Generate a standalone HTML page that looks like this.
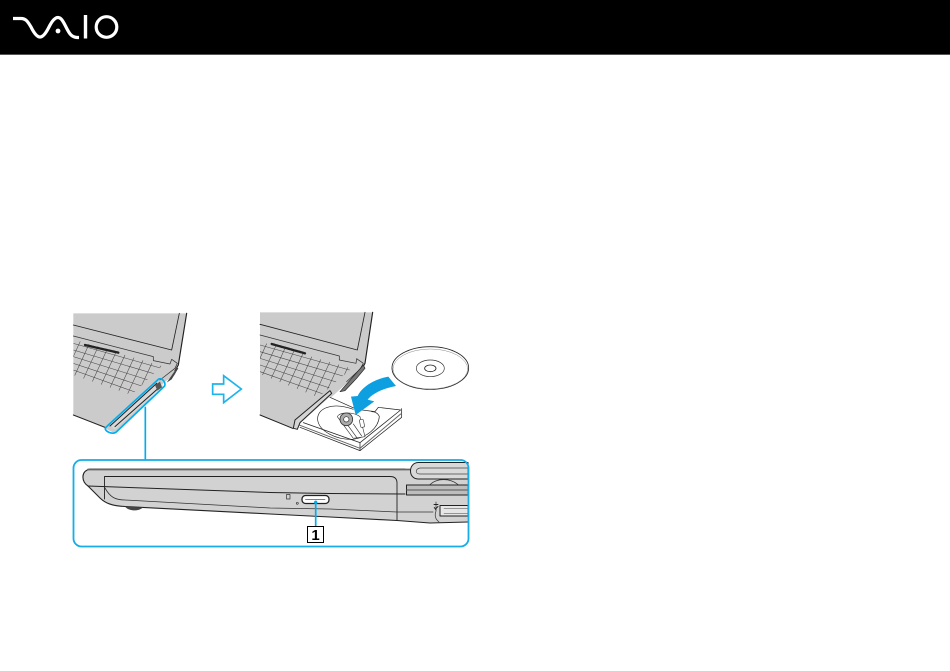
<!DOCTYPE html>
<html><head><meta charset="utf-8"><style>
html,body{margin:0;padding:0;background:#fff;width:950px;height:671px;overflow:hidden}
svg{display:block;position:absolute;left:0;top:0}
</style></head><body>
<svg width="950" height="671" viewBox="0 0 950 671" xmlns="http://www.w3.org/2000/svg">
<defs>
<filter id="b" x="-5%" y="-5%" width="110%" height="110%"><feGaussianBlur stdDeviation="0.35"/></filter>
<clipPath id="k1"><path d="M40 118 L305 198 L215 285 L40 225 Z"/></clipPath>
<clipPath id="k2"><path d="M30 125 L305 205 L205 292 L30 222 Z"/></clipPath>
</defs>
<rect width="950" height="54" fill="#000"/>
<rect y="54" width="950" height="1" fill="#555"/>
<!-- logo -->
<g fill="none" stroke="#fff" stroke-width="3.2">
<path d="M13 18.500 L21 18.500 C26 18.500 28 22 31 27 C34 33 37 37 40 37 C43 37 46 33 49 27 C52 21 55 17.500 58 17.500 C61 17.500 63 21 66 27 C69 33 71 37 77 37.500 L79 37.500"/>
<path d="M85.500 15 V38.500" stroke-width="3.400"/>
<circle cx="106.500" cy="27" r="10.300"/>
</g>
<circle cx="58" cy="31" r="2.400" fill="#fff"/>

<g filter="url(#b)">
<!-- laptop 1 -->
<g transform="translate(60,300) scale(.3333)" stroke-linejoin="round" stroke-linecap="round">
<path d="M40 40 L380 40 L355 195 L345 225 L315 245 L240 330 L165 400 L135 385 L40 345 Z" fill="#cbcbcb"/>
<path d="M40 75 L335 150 L358 40" fill="none" stroke="#222" stroke-width="2.500"/>
<path d="M380 40 L355 195 L345 212" fill="none" stroke="#222" stroke-width="3.500"/>
<path d="M40 108 L280 170 L280 182 L330 192 L335 178 L352 190 L345 205 L300 240" fill="none" stroke="#333" stroke-width="2.200"/>
<g clip-path="url(#k1)" fill="none" stroke="#444" stroke-width="1.600">
<path d="M40 130 L305 205 M40 150 L285 222 M40 170 L265 240 M40 190 L245 258 M40 210 L225 276 M40 228 L205 290"/>
<path d="M65 115 L10 235 M92 122 L37 242 M119 130 L64 250 M146 138 L91 258 M173 146 L118 266 M200 154 L145 274 M227 162 L172 282 M254 170 L199 290 M281 178 L226 298 M308 186 L253 306"/>
</g>
<path d="M75 135 L175 158" stroke="#222" stroke-width="7" stroke-dasharray="9 3" fill="none"/>
<path d="M40 345 L135 382" stroke="#222" stroke-width="3" fill="none"/>
<path d="M345 212 L350 200 L355 205 L335 238 L320 248 Z" fill="#444"/>
<path d="M150 375 L295 245 L310 258 L165 388 Z" fill="#d8d8d8"/>
<path d="M150 378 L290 250 M165 380 L298 262" stroke="#222" stroke-width="3" fill="none"/>
<path d="M285 255 L300 245 L306 262 L292 272 Z" fill="#555"/>
<path d="M145 375 L295 238 C305 232 318 245 314 258 L170 395 C158 407 130 392 137 383 Z" fill="none" stroke="#00aeef" stroke-width="5"/>
<path d="M256 322 V478" stroke="#00aeef" stroke-width="5" fill="none"/>
<path d="M458 252 H491 V227 L544 267 L491 308 V283 H458 Z" fill="#fff" stroke="#1cb4ea" stroke-width="5" stroke-linejoin="miter"/>
</g>

<!-- laptop 2 -->
<g transform="translate(250,300) scale(.3333)" stroke-linejoin="round" stroke-linecap="round">
<path d="M30 37 L368 37 L345 190 L330 215 L290 250 L240 295 L160 365 L130 388 L30 345 Z" fill="#cbcbcb"/>
<path d="M30 73 L322 150 L345 37" fill="none" stroke="#222" stroke-width="2.500"/>
<path d="M368 37 L345 190 L335 208" fill="none" stroke="#222" stroke-width="3.500"/>
<path d="M30 105 L268 168 L268 180 L318 190 L320 176 L340 190 L330 208 L290 245" fill="none" stroke="#333" stroke-width="2.200"/>
<g clip-path="url(#k2)" fill="none" stroke="#444" stroke-width="1.600">
<path d="M30 135 L305 212 M30 155 L285 230 M30 175 L265 248 M30 195 L245 266 M30 215 L225 284"/>
<path d="M55 120 L0 240 M82 128 L27 248 M109 136 L54 256 M136 144 L81 264 M163 152 L108 272 M190 160 L135 280 M217 168 L162 288 M244 176 L189 296 M271 184 L216 304 M298 192 L243 312"/>
</g>
<path d="M65 132 L165 160" stroke="#222" stroke-width="7" stroke-dasharray="9 3" fill="none"/>
<path d="M30 345 L128 385" stroke="#222" stroke-width="3" fill="none"/>
<path d="M270 275 L305 235 L340 195 L345 205 L320 235 L285 272 Z" fill="#777" stroke="#222" stroke-width="2"/>
<!-- tray -->
<path d="M150 370 L240 290 L455 328 L450 355 L330 452 L150 382 Z" fill="#fff"/>
<path d="M240 292 L320 328 L375 335 L385 322 L452 330 L330 428 L160 368 M330 428 L330 452 M150 382 L330 452 L455 352 L455 326" fill="none" stroke="#222" stroke-width="2.200"/>
<path d="M150 376 L330 445 L452 342" fill="none" stroke="#666" stroke-width="3"/>
<path d="M130 385 L135 360 L240 272 L245 280 L150 368 L142 388 Z" fill="#d5d5d5" stroke="#222" stroke-width="3"/>
<path d="M310 328 C245 305 200 325 203 360 C208 395 260 420 310 418 C350 412 385 385 388 350 C385 340 375 335 365 335" fill="none" stroke="#222" stroke-width="2"/>
<path d="M262 350 C270 335 310 335 330 350 L345 410 L310 415 Z" fill="#fff" stroke="#333" stroke-width="1.800"/>
<circle cx="289" cy="358" r="19" fill="#aaa" stroke="#333" stroke-width="2.500"/>
<circle cx="289" cy="358" r="8" fill="#fff" stroke="#333" stroke-width="2"/>
<path d="M295 378 L322 415 M310 372 L335 408" stroke="#333" stroke-width="2" fill="none"/>
<rect x="330" y="358" width="12" height="24" rx="4" transform="rotate(-12 336 370)" fill="#fff" stroke="#444" stroke-width="2"/>
<!-- disc -->
<ellipse cx="541" cy="204" rx="115" ry="64" fill="#fff" stroke="#222" stroke-width="2.500"/>
<ellipse cx="541" cy="207" rx="112" ry="60" fill="none" stroke="#888" stroke-width="1.500"/>
<ellipse cx="541" cy="205" rx="42" ry="25" fill="none" stroke="#333" stroke-width="2"/>
<ellipse cx="541" cy="205" rx="17" ry="10" fill="none" stroke="#222" stroke-width="2.500"/>
<!-- arrow -->
<path d="M415 230 C370 238 335 262 323 288 L303 290 L317 345 L373 304 L353 299 C368 280 400 265 438 258 Z" fill="#0f9fe0"/>
</g>

<!-- side panel -->
<g stroke-linejoin="round" stroke-linecap="round">
<path d="M90 469 H468 V522 L430 523 L397 520.500 L330 517 L270 514 L125 506.500 C112 506 105 503 100 498 L88 486 C81 481 79 471 90 469 Z" fill="#d2d2d2"/>
<path d="M405 469 H90 C81 471 81 481 88 486 L100 498 C105 503 112 506 125 506.500 L270 514 L330 517 L397 520.500 L430 523 L468 522" fill="none" stroke="#222" stroke-width="1.100"/>
<path d="M88 469.500 H410" stroke="#666" stroke-width="1.800" fill="none"/>
<path d="M104.500 499 V476.500 H390 Q397 476.500 397 483 V520.500" fill="none" stroke="#222" stroke-width=".9"/>
<path d="M88 486 L270 492.500 L330 493.500 L405 494" stroke="#222" stroke-width="1" fill="none"/>
<path d="M105 488 C110 497 115 500 125 500 L270 508 L330 509 L397 512 H433" fill="none" stroke="#333" stroke-width=".8"/>
<path d="M125 506.500 C128 511 138 512 143 507.500 Z" fill="#444"/>
<!-- right side details -->
<path d="M468 462.500 H418 C408 463 408 479 418 479 H468 Z" fill="#d9d9d9" stroke="#222" stroke-width="1"/>
<path d="M468 468 H420 C415 469 415 474 420 474 H468" fill="none" stroke="#444" stroke-width=".7"/>
<path d="M406.500 485 H468 V495 H406.500 Z" fill="#bdbdbd" stroke="#222" stroke-width="1"/>
<path d="M406.500 490 H468" stroke="#555" stroke-width="1" fill="none"/>
<path d="M430 484.500 C437 478 450 478 458 484.500" fill="none" stroke="#333" stroke-width=".7"/>
<path d="M440 505.500 H468 V516 H440 Z" fill="#e6e6e6" stroke="#222" stroke-width="1"/>
<path d="M444 508.500 H468 M444 513.500 H468" stroke="#444" stroke-width=".6" fill="none"/>
<path d="M436 502 V511 C434.500 515 435 519 439 522" stroke="#333" stroke-width=".7" fill="none"/>
<path d="M434 504.500 H438 M436 510 L434.300 507.500 M436 508.500 L438 506.500" stroke="#222" stroke-width=".9" fill="none"/>
<!-- switch -->
<rect x="286.500" y="494.500" width="3.500" height="4.500" fill="none" stroke="#333" stroke-width=".7"/>
<circle cx="297.300" cy="503.300" r="1" fill="none" stroke="#333" stroke-width=".7"/>
<rect x="302" y="495.500" width="27" height="8" rx="3.500" fill="#fff" stroke="#222" stroke-width="1.300"/>
<path d="M305.500 499.500 H325" stroke="#555" stroke-width=".7" fill="none"/>
<path d="M315.700 501.500 V526" stroke="#00aeef" stroke-width="1.700" fill="none"/>
<circle cx="315.700" cy="502.300" r="1.700" fill="#00aeef"/>
</g>
<!-- frame -->
<rect x="73.500" y="460" width="395" height="86.500" rx="8" fill="none" stroke="#12ade8" stroke-width="1.800"/>
</g>
<!-- callout -->
<rect x="307.500" y="526.500" width="16" height="16" fill="#fff" stroke="#000" stroke-width="1"/>
<text x="315.500" y="539.800" font-family="'Liberation Sans',sans-serif" font-size="15" font-weight="bold" text-anchor="middle" fill="#000">1</text>
</svg>
</body></html>
